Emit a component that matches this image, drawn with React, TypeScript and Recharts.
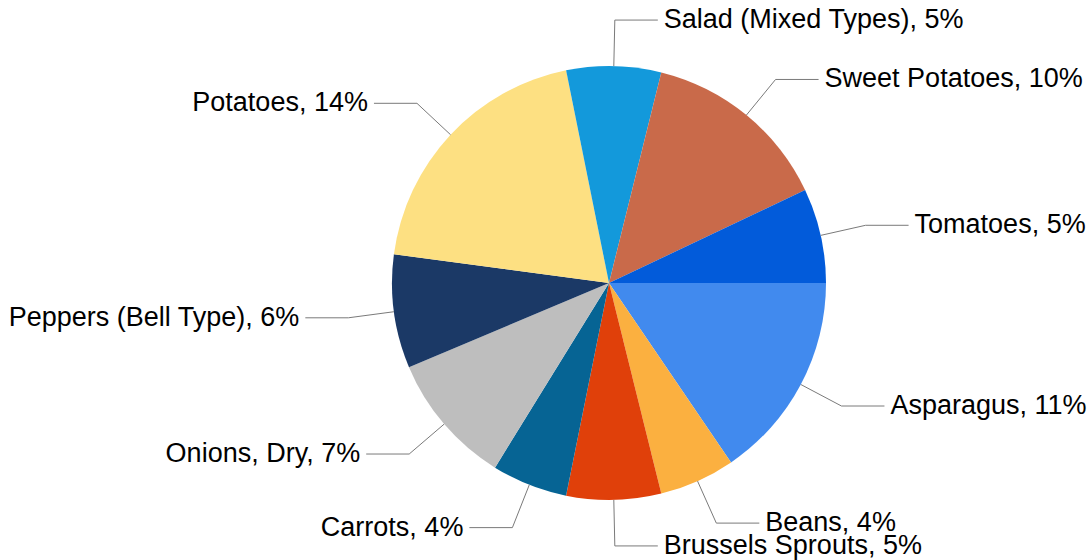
import { PieChart, Pie, Cell } from "recharts";

const categories = [
  "Asparagus",
  "Beans",
  "Brussels Sprouts",
  "Carrots",
  "Onions, Dry",
  "Peppers (Bell Type)",
  "Potatoes",
  "Salad (Mixed Types)",
  "Sweet Potatoes",
  "Tomatoes",
];

const shares = [11, 4, 5, 4, 7, 6, 14, 5, 10, 5];

const colors = [
  "#418AEE",
  "#FBB040",
  "#E0400A",
  "#066494",
  "#BEBEBE",
  "#1B3966",
  "#FDE082",
  "#1399DB",
  "#C96A4A",
  "#025BDA",
];

const data = categories.map((name, i) => ({ name, value: shares[i] }));

const RADIAN = Math.PI / 180;

const renderLabel = (props: any) => {
  const { cx, cy, midAngle, outerRadius, name, value } = props;
  const cos = Math.cos(-midAngle * RADIAN);
  const sin = Math.sin(-midAngle * RADIAN);
  const sx = cx + outerRadius * cos;
  const sy = cy + outerRadius * sin;
  const mx = cx + (outerRadius + 46) * cos;
  const my = cy + (outerRadius + 46) * sin;
  const right = cos >= 0;
  const ex = mx + (right ? 43 : -43);
  const tx = ex + (right ? 6 : -6);
  return (
    <g>
      <polyline
        points={`${sx},${sy} ${mx},${my} ${ex},${my}`}
        fill="none"
        stroke="#7a7a7a"
        strokeWidth={1}
      />
      <text
        x={tx}
        y={my}
        dy={8}
        textAnchor={right ? "start" : "end"}
        fill="#000"
        fontSize={27}
        fontFamily="'Liberation Sans', Arial, sans-serif"
      >
        {`${name}, ${value}%`}
      </text>
    </g>
  );
};

export default function App() {
  return (
    <div style={{ position: "absolute", left: 0, top: 0, width: 1091, height: 560, background: "#fff" }}>
      <PieChart width={1091} height={560} margin={{ top: 0, right: 0, bottom: 0, left: 0 }}>
        <Pie
          data={data}
          dataKey="value"
          nameKey="name"
          cx={609}
          cy={283}
          outerRadius={217}
          startAngle={0}
          endAngle={-360}
          stroke="none"
          label={renderLabel}
          labelLine={false}
          isAnimationActive={false}
        >
          {data.map((entry, i) => (
            <Cell key={`cell-${entry.name}`} fill={colors[i]} />
          ))}
        </Pie>
      </PieChart>
    </div>
  );
}
